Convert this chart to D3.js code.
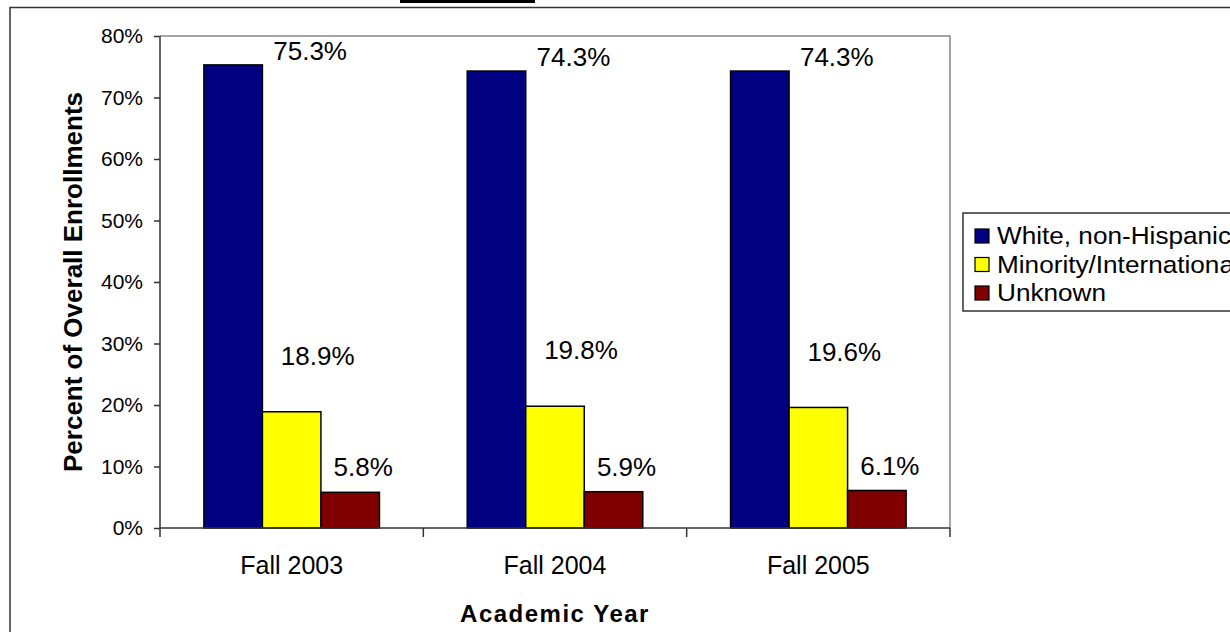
<!DOCTYPE html>
<html lang="en">
    <head>
        <meta charset="utf-8" />
        <title>Enrollment by Ethnicity</title>
        <style>
            body { margin: 0; background: #fff; }
            svg text { font-family: "Liberation Sans", Arial, sans-serif; fill: #000; }
        </style>
        <script type="text/javascript" src="https://cdn.jsdelivr.net/npm/d3@7"></script>
    </head>
    <body>
        <script type="text/javascript">
            // chart data
            var years = ['Fall 2003', 'Fall 2004', 'Fall 2005'];
            var seriesNames = ['White, non-Hispanic', 'Minority/International', 'Unknown'];
            var white = [75.3, 74.3, 74.3];
            var minority = [18.9, 19.8, 19.6];
            var unknown = [5.8, 5.9, 6.1];
            var yTicks = [0, 10, 20, 30, 40, 50, 60, 70, 80];

            var colors = ['#000080', '#ffff00', '#800000'];
            // where each series' value label sits, relative to its bar top centre
            var labelDx = [77, 26, 13],
                labelDy = [-14, -56, -25];

            var width = 1230,
                height = 632,
                plot = { left: 160, top: 36, right: 950, bottom: 528 };

            var values = [white, minority, unknown];
            var rows = [];
            years.forEach(function(y, i) {
                seriesNames.forEach(function(s, j) {
                    rows.push({ year: y, series: s, idx: j, value: values[j][i] });
                });
            });

            var svg = d3.select('body')
                        .append('svg')
                        .attr('width', width)
                        .attr('height', height);

            // underline of the caption that sits above the frame
            svg.append('rect').attr('x', 400).attr('y', 0).attr('width', 135).attr('height', 3).attr('fill', '#000');

            // outer chart frame
            svg.append('rect')
                .attr('x', 10).attr('y', 7.5)
                .attr('width', width + 20).attr('height', height)
                .attr('fill', 'none').attr('stroke', '#333').attr('stroke-width', 1.5);

            var x0 = d3.scaleBand()
                        .domain(years)
                        .range([plot.left, plot.right])
                        .paddingInner(0)
                        .paddingOuter(0);

            var x1 = d3.scaleBand()
                        .domain(seriesNames)
                        .range([0, x0.bandwidth()])
                        .paddingOuter(0.75)
                        .paddingInner(0);

            var y = d3.scaleLinear()
                        .domain([0, 80])
                        .range([plot.bottom, plot.top]);

            // plot area border (top / right)
            svg.append('path')
                .attr('d', 'M' + plot.left + ',' + plot.top + 'H' + plot.right + 'V' + plot.bottom)
                .attr('fill', 'none').attr('stroke', '#888').attr('stroke-width', 1.5);

            // bars
            svg.append('g').selectAll('rect')
                .data(rows)
                .enter()
                .append('rect')
                .attr('x', function(d) { return x0(d.year) + x1(d.series); })
                .attr('y', function(d) { return y(d.value); })
                .attr('width', x1.bandwidth())
                .attr('height', function(d) { return y(0) - y(d.value); })
                .attr('fill', function(d) { return colors[d.idx]; })
                .attr('stroke', '#000')
                .attr('stroke-width', 1.5);

            // value labels
            svg.append('g').selectAll('text')
                .data(rows)
                .enter()
                .append('text')
                .attr('x', function(d) { return x0(d.year) + x1(d.series) + x1.bandwidth() / 2 + labelDx[d.idx]; })
                .attr('y', function(d) { return y(d.value) + labelDy[d.idx]; })
                .attr('dy', '.35em')
                .attr('text-anchor', 'middle')
                .style('font-size', '26px')
                .text(function(d) { return d.value.toFixed(1) + '%'; });

            // y axis
            var yAxis = svg.append('g')
                .attr('transform', 'translate(' + plot.left + ',0)')
                .call(d3.axisLeft(y).tickValues(yTicks).tickSize(6).tickPadding(11)
                        .tickFormat(function(d) { return d + '%'; }));
            yAxis.selectAll('text').style('font-size', '21px').style('font-family', '"Liberation Sans", Arial, sans-serif');
            yAxis.selectAll('line, path').attr('stroke', '#333').attr('stroke-width', 1.5);
            yAxis.select('.domain').attr('d', 'M0,' + plot.top + 'V' + plot.bottom);

            // x axis
            var xAxis = svg.append('g')
                .attr('transform', 'translate(0,' + plot.bottom + ')')
                .call(d3.axisBottom(x0).tickSize(0).tickPadding(28));
            xAxis.selectAll('text').style('font-size', '25px').style('font-family', '"Liberation Sans", Arial, sans-serif');
            xAxis.select('.domain').attr('d', 'M' + plot.left + ',0H' + plot.right)
                .attr('stroke', '#333').attr('stroke-width', 1.5);
            xAxis.selectAll('.sep')
                .data([plot.left].concat(years.map(function(d) { return x0(d) + x0.bandwidth(); })))
                .enter().append('line')
                .attr('x1', function(d) { return d; }).attr('x2', function(d) { return d; })
                .attr('y1', 0).attr('y2', 9)
                .attr('stroke', '#333').attr('stroke-width', 1.5);

            // axis titles
            svg.append('text')
                .attr('transform', 'translate(82,' + (plot.top + plot.bottom) / 2 + ') rotate(-90)')
                .attr('text-anchor', 'middle')
                .style('font-size', '26px').style('font-weight', 'bold')
                .text('Percent of Overall Enrollments');

            svg.append('text')
                .attr('x', (plot.left + plot.right) / 2)
                .attr('y', 622)
                .attr('text-anchor', 'middle')
                .style('font-size', '24px').style('font-weight', 'bold')
                .style('letter-spacing', '1.5px')
                .text('Academic Year');

            // legend
            var legend = svg.append('g').attr('transform', 'translate(963,213)');
            legend.append('rect')
                .attr('width', 300).attr('height', 98)
                .attr('fill', '#fff').attr('stroke', '#333').attr('stroke-width', 1.5);
            var item = legend.selectAll('.item')
                .data(seriesNames)
                .enter().append('g')
                .attr('transform', function(d, i) { return 'translate(12,' + (23 + i * 28.5) + ')'; });
            item.append('rect')
                .attr('y', -7).attr('width', 14).attr('height', 14)
                .attr('fill', function(d, i) { return colors[i]; })
                .attr('stroke', '#000').attr('stroke-width', 1.2);
            item.append('text')
                .attr('transform', 'translate(22,0) scale(1.09,1)')
                .attr('dy', '.35em')
                .style('font-size', '24px')
                .text(function(d) { return d; });
        </script>
    </body>
</html>
